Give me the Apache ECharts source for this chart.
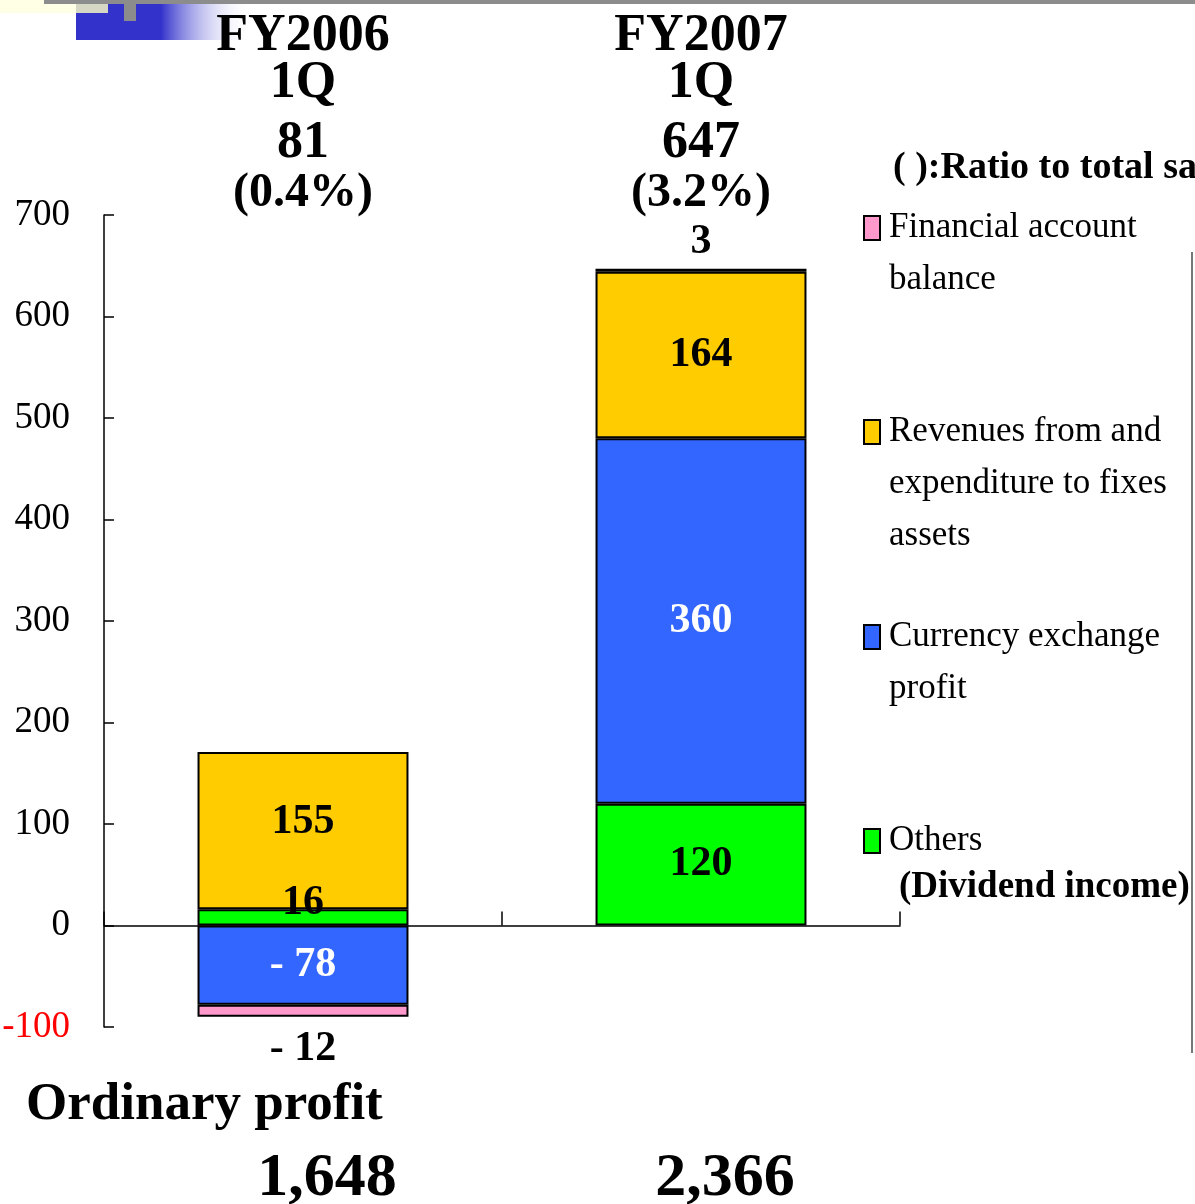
<!DOCTYPE html>
<html><head><meta charset="utf-8">
<script src="https://cdn.jsdelivr.net/npm/echarts@6/dist/echarts.min.js"></script>
<style>html,body{margin:0;padding:0;background:#fff}#c{width:1195px;height:1204px}</style>
</head><body><div id="c"></div>
<script>
// ---- data ----
const periods = ['FY2006', 'FY2007'];
const quarter = '1Q';
const ratioLabels = ['(0.4%)', '(3.2%)'];
const ordinaryProfit = ['1,648', '2,366'];
const others = [16, 120];          // Others (Dividend income)
const currency = [-78, 360];       // Currency exchange profit
const fixedAssets = [155, 164];    // Revenues from and expenditure to fixes assets
const financial = [-12, 3];        // Financial account balance
const yMin = -100, yMax = 700, yStep = 100;
const nameOthers = 'Others';
const nameCurrency = 'Currency exchange profit';
const nameFixed = 'Revenues from and expenditure to fixes assets';
const nameFinancial = 'Financial account balance';
const legendLines = {};
legendLines[nameFinancial] = ['Financial account', 'balance'];
legendLines[nameFixed] = ['Revenues from and', 'expenditure to fixes', 'assets'];
legendLines[nameCurrency] = ['Currency exchange', 'profit'];
legendLines[nameOthers] = ['Others', '{d|(Dividend income)}'];
const ratioNote = '( ):Ratio to total sales';
const profitTitle = 'Ordinary profit';

const totals = periods.map((_, i) => others[i] + currency[i] + fixedAssets[i] + financial[i]);

// ---- styles ----
const SERIF = '"Liberation Serif", "Times New Roman", serif';
const labelBase = { show: true, fontFamily: SERIF, fontWeight: 'bold', fontSize: 42, color: '#000' };
const fmtVal = p => (p.value < 0 ? '- ' + Math.abs(p.value) : String(p.value));
const border = { borderColor: '#000', borderWidth: 2 };

function legendFor(name, top) {
  return {
    data: [{ name: name, icon: 'rect' }],
    orient: 'vertical', left: 863, top: top, padding: 0,
    itemWidth: 16, itemHeight: 24, itemGap: 0, selectedMode: false,
    formatter: n => legendLines[n].join('\n'),
    textStyle: {
      fontFamily: SERIF, fontSize: 35, color: '#000', lineHeight: 52, height: 52,
      padding: [0, 0, 0, 4],
      rich: { d: { fontFamily: SERIF, fontWeight: 'bold', fontSize: 37, lineHeight: 40, padding: [0, 0, 0, 10], color: '#000' } }
    }
  };
}

const chart = echarts.init(document.getElementById('c'), null, { renderer: 'canvas' });
chart.setOption({
  animation: false,
  backgroundColor: '#fff',
  grid: { left: 104, right: 295, top: 215, bottom: 177, containLabel: false, outerBoundsMode: 'none' },
  legend: [
    legendFor(nameFinancial, 202),
    legendFor(nameFixed, 406),
    legendFor(nameCurrency, 611),
    legendFor(nameOthers, 815)
  ],
  xAxis: [
    {
      type: 'category', data: periods,
      axisLine: { lineStyle: { color: '#000', width: 1.5 } },
      axisTick: { show: true, inside: true, length: 14, lineStyle: { color: '#000', width: 1.5 } },
      axisLabel: { show: false }
    },
    {
      type: 'category', data: periods, position: 'top',
      axisLine: { show: false, onZero: false }, axisTick: { show: false },
      axisLabel: {
        interval: 0, margin: 1, color: '#000',
        formatter: (v, i) => '{a|' + v + '}\n{q|' + quarter + '}\n{b|' + totals[i] + '}\n{c|' + ratioLabels[i] + '}',
        rich: {
          a: { fontFamily: SERIF, fontWeight: 'bold', fontSize: 52, lineHeight: 34, color: '#000' },
          q: { fontFamily: SERIF, fontWeight: 'bold', fontSize: 52, lineHeight: 60, color: '#000' },
          b: { fontFamily: SERIF, fontWeight: 'bold', fontSize: 52, lineHeight: 60, color: '#000' },
          c: { fontFamily: SERIF, fontWeight: 'bold', fontSize: 48, lineHeight: 40, color: '#000' }
        }
      }
    },
    {
      type: 'category', data: ordinaryProfit, position: 'bottom',
      axisLine: { show: false, onZero: false }, axisTick: { show: false },
      axisLabel: { interval: 0, margin: 121, fontFamily: SERIF, fontWeight: 'bold', fontSize: 62, lineHeight: 62, color: '#000', padding: [0, 0, 0, 48] }
    }
  ],
  yAxis: {
    type: 'value', min: yMin, max: yMax, interval: yStep,
    axisLine: { show: true, lineStyle: { color: '#000', width: 1.5 } },
    axisTick: { show: true, inside: true, length: 10, lineStyle: { color: '#000', width: 1.5 } },
    splitLine: { show: false },
    axisLabel: { margin: 34, fontFamily: SERIF, fontSize: 37, color: v => (v < 0 ? '#ff0000' : '#000') }
  },
  series: [
    {
      name: nameOthers, type: 'bar', stack: 'total', barWidth: '53%',
      itemStyle: Object.assign({ color: '#00ff00' }, border),
      label: Object.assign({}, labelBase, { position: 'inside', formatter: fmtVal }),
      data: others.map((v, i) => i === 0 ? { value: v, label: { position: 'top', distance: -15 } } : { value: v })
    },
    {
      name: nameCurrency, type: 'bar', stack: 'total', barWidth: '53%',
      itemStyle: Object.assign({ color: '#3366ff' }, border),
      label: Object.assign({}, labelBase, { position: 'inside', color: '#fff', formatter: fmtVal }),
      data: currency.slice()
    },
    {
      name: nameFixed, type: 'bar', stack: 'total', barWidth: '53%',
      itemStyle: Object.assign({ color: '#ffcc00' }, border),
      label: Object.assign({}, labelBase, { position: 'inside', formatter: fmtVal }),
      data: fixedAssets.map((v, i) => i === 0 ? { value: v, label: { offset: [0, -8] } } : { value: v })
    },
    {
      name: nameFinancial, type: 'bar', stack: 'total', barWidth: '53%',
      itemStyle: Object.assign({ color: '#ff99cc' }, border),
      label: Object.assign({}, labelBase, { formatter: fmtVal }),
      data: financial.map(v => ({ value: v, label: { position: v < 0 ? 'bottom' : 'top', distance: v < 0 ? 11 : 6 } }))
    }
  ],
  graphic: [
    { type: 'rect', shape: { x: 0, y: 0, width: 76, height: 13 }, style: { fill: '#ffffe6' }, silent: true },
    { type: 'rect', shape: { x: 76, y: 0, width: 32, height: 13 }, style: { fill: '#d6d6c4' }, silent: true },
    { type: 'rect', shape: { x: 76, y: 13, width: 86, height: 27 }, style: { fill: '#3333cc' }, silent: true },
    { type: 'rect', shape: { x: 108, y: 4, width: 54, height: 10 }, style: { fill: '#3333cc' }, silent: true },
    { type: 'rect', shape: { x: 161, y: 4, width: 90, height: 36 }, silent: true,
      style: { fill: new echarts.graphic.LinearGradient(0, 0, 1, 0, [{ offset: 0, color: '#3333cc' }, { offset: 1, color: 'rgba(255,255,255,0)' }]) } },
    { type: 'rect', shape: { x: 44, y: 0, width: 1151, height: 4 }, style: { fill: '#8c8c8c' }, silent: true },
    { type: 'rect', shape: { x: 124, y: 4, width: 12, height: 17 }, style: { fill: '#8c8c8c' }, silent: true },
    { type: 'line', shape: { x1: 1192, y1: 252, x2: 1192, y2: 1053 }, style: { stroke: '#777', lineWidth: 2 }, silent: true },
    { type: 'text', x: 893, y: 168, silent: true,
      style: { text: ratioNote, font: 'bold 38px ' + SERIF, fill: '#000', verticalAlign: 'middle' } },
    { type: 'text', x: 26, y: 1105, silent: true,
      style: { text: profitTitle, font: 'bold 53px ' + SERIF, fill: '#000', verticalAlign: 'middle' } }
  ]
});
</script></body></html>
